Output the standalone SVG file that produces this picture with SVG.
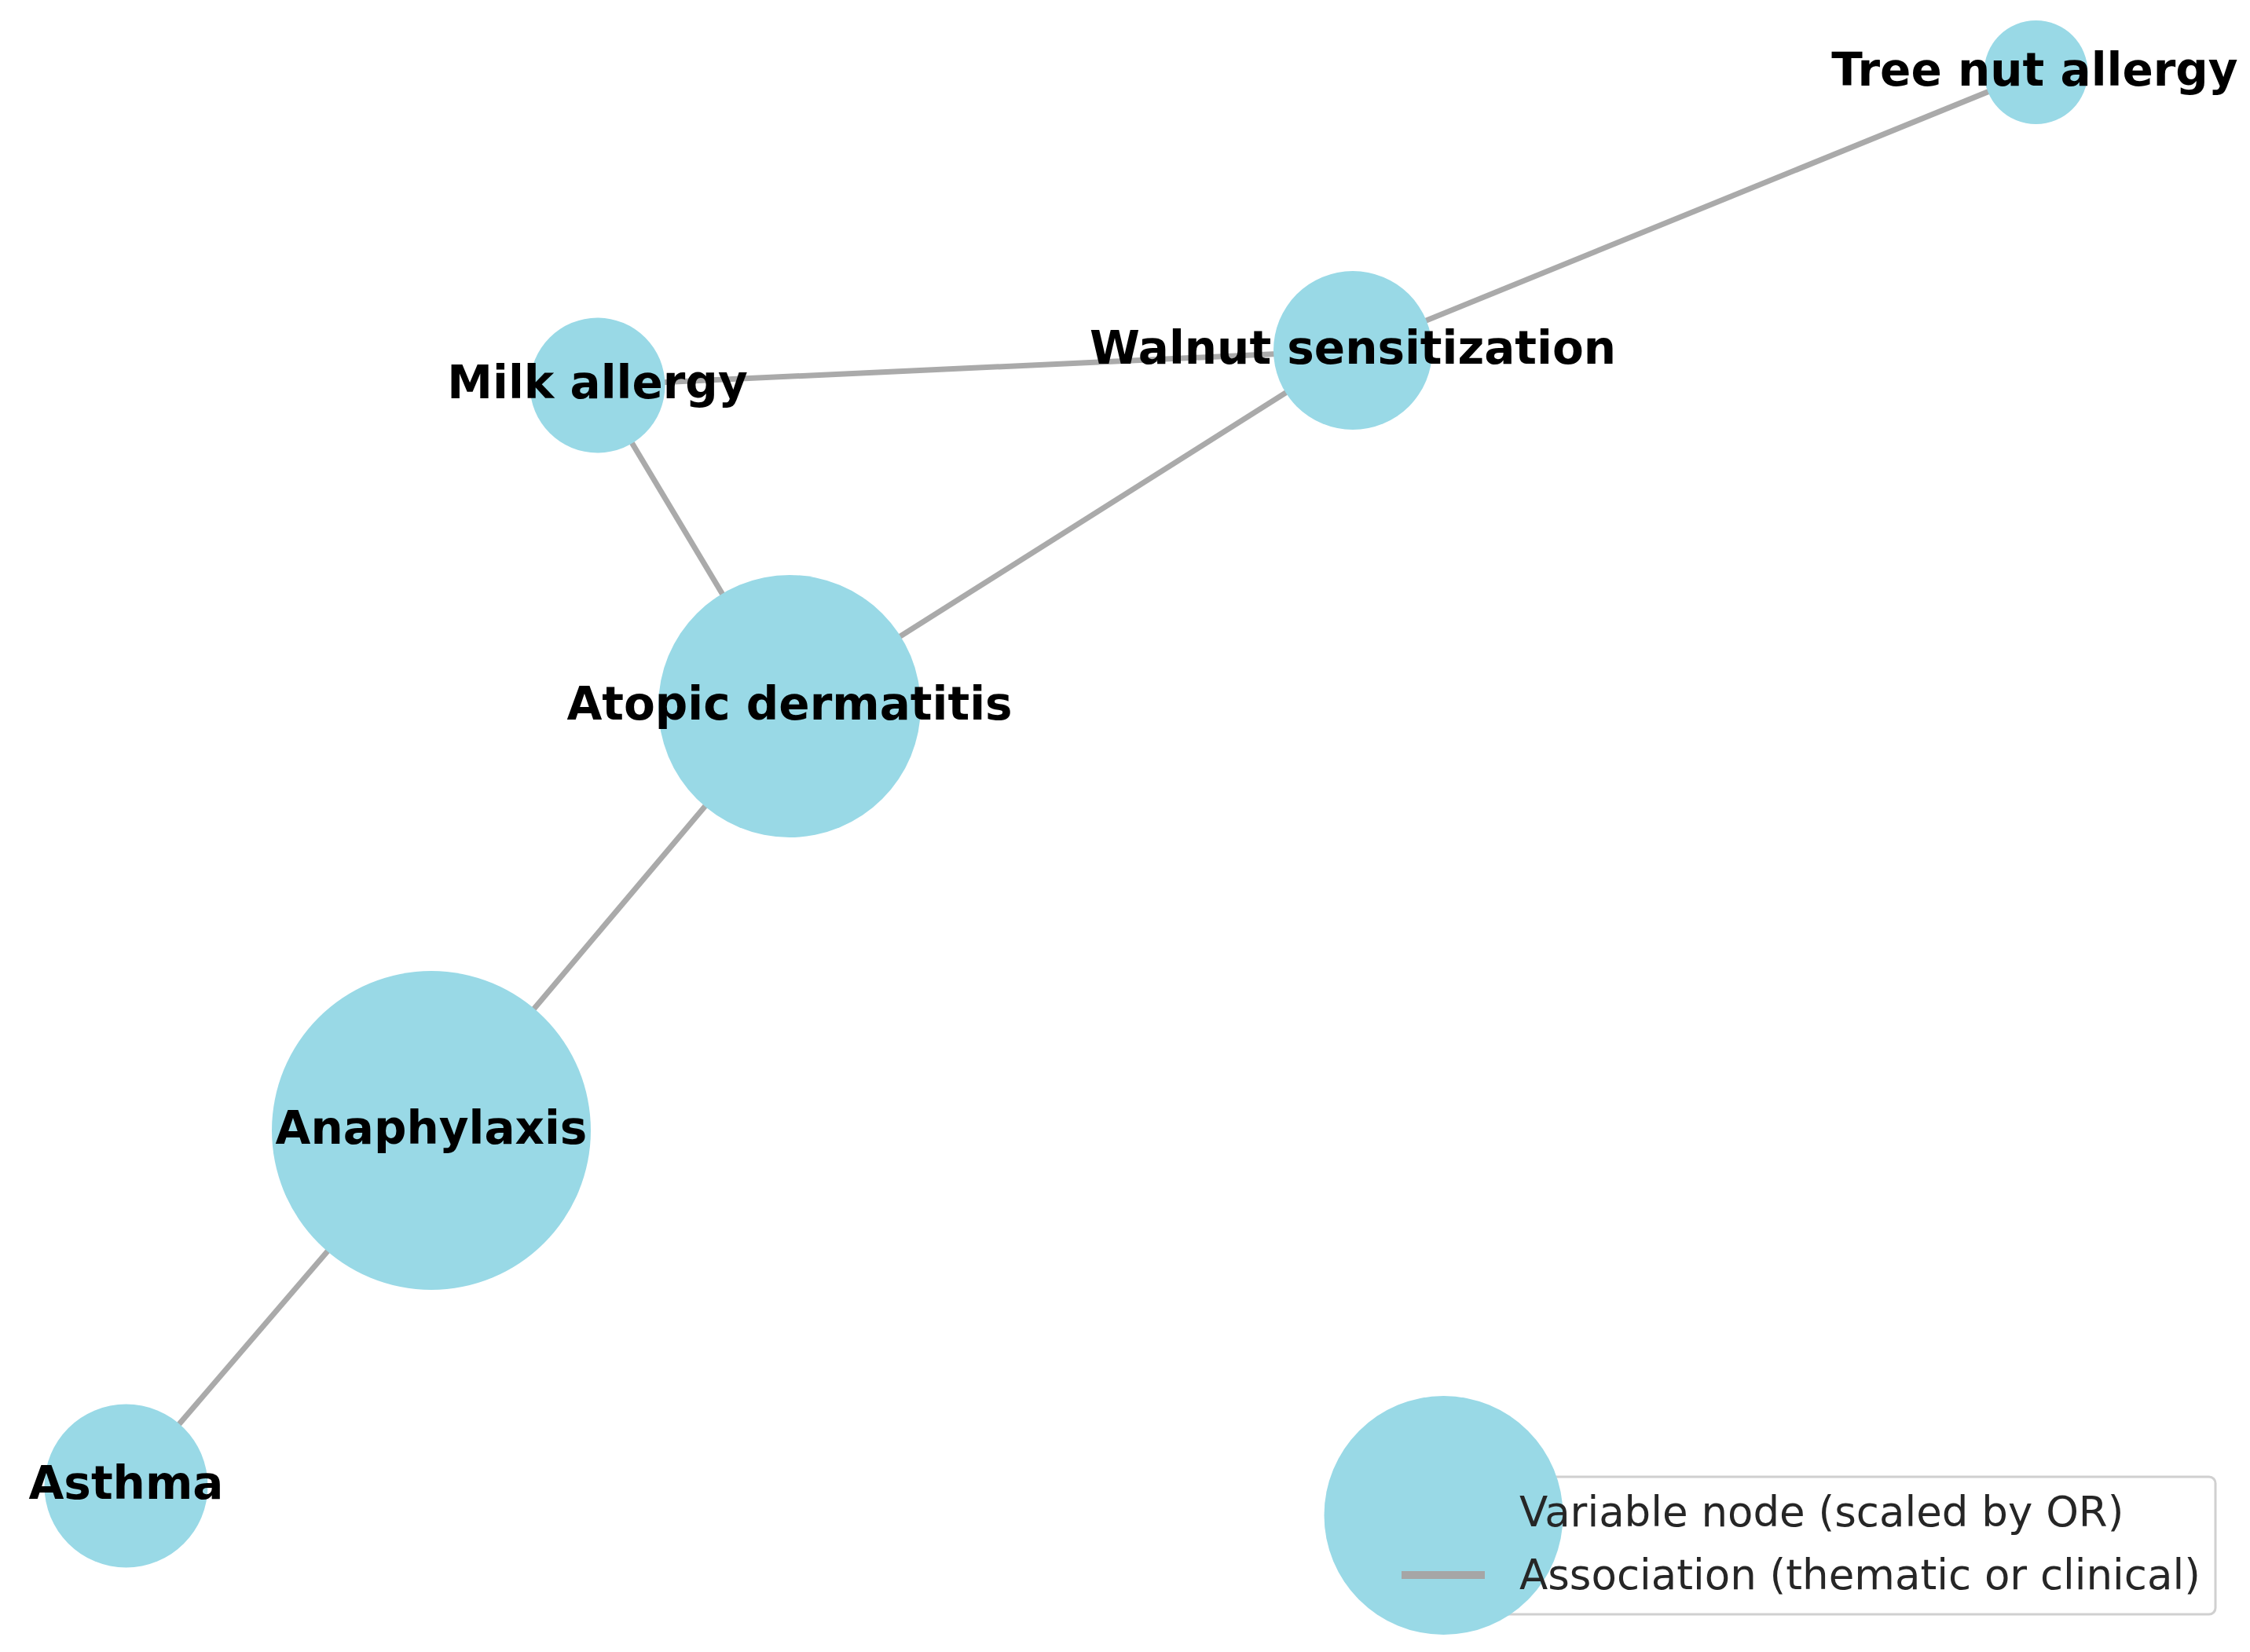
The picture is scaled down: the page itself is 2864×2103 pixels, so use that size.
<svg xmlns="http://www.w3.org/2000/svg" width="2864" height="2103" viewBox="0 0 2864 2103">
<style>
.node{fill:#99d9e6;}
.edge{stroke:#aaaaaa;stroke-width:7;stroke-linecap:butt;fill:none;}
.lbl{font-family:"DejaVu Sans","Liberation Sans",sans-serif;font-weight:bold;font-size:58px;fill:#000000;text-anchor:middle;}
.leg{font-family:"DejaVu Sans","Liberation Sans",sans-serif;font-size:53px;fill:#262626;}
</style>
<rect x="0" y="0" width="2864" height="2103" fill="#ffffff"/>
<g id="connectors">
<line class="edge" x1="760.5" y1="490.5" x2="1722" y2="446"/>
<line class="edge" x1="1722" y1="446" x2="2591.5" y2="92"/>
<line class="edge" x1="760.5" y1="490.5" x2="1005" y2="899"/>
<line class="edge" x1="1722" y1="446" x2="1005" y2="899"/>
<line class="edge" x1="1005" y1="899" x2="549" y2="1439"/>
<line class="edge" x1="549" y1="1439" x2="160.5" y2="1891.5"/>
</g>
<g id="node-milk-allergy">
<circle class="node" cx="760.5" cy="490.5" r="86"/>
<text class="lbl" x="760.5" y="507">Milk allergy</text>
</g>
<g id="node-walnut-sensitization">
<circle class="node" cx="1722" cy="446" r="101"/>
<text class="lbl" x="1722" y="462.5">Walnut sensitization</text>
</g>
<g id="node-tree-nut-allergy">
<circle class="node" cx="2591.5" cy="92" r="66"/>
<text class="lbl" x="2590" y="108.5">Tree nut allergy</text>
</g>
<g id="node-atopic-dermatitis">
<circle class="node" cx="1005" cy="899" r="167"/>
<text class="lbl" x="1005" y="915.5">Atopic dermatitis</text>
</g>
<g id="node-anaphylaxis">
<circle class="node" cx="549" cy="1439" r="203"/>
<text class="lbl" x="549" y="1455.5">Anaphylaxis</text>
</g>
<g id="node-asthma">
<circle class="node" cx="160.5" cy="1891.5" r="104"/>
<text class="lbl" x="160.5" y="1908">Asthma</text>
</g>
<g id="legend">
<rect x="1775" y="1880" width="1045" height="175" rx="8" ry="8" fill="#ffffff" fill-opacity="0.8" stroke="#d0d0d0" stroke-width="3"/>
<circle class="node" cx="1837.5" cy="1929" r="152"/>
<line x1="1784" y1="2005" x2="1890" y2="2005" stroke="#a6a6a6" stroke-width="10"/>
<text class="leg" x="1934" y="1943">Variable node (scaled by OR)</text>
<text class="leg" x="1934" y="2023">Association (thematic or clinical)</text>
</g>
</svg>
